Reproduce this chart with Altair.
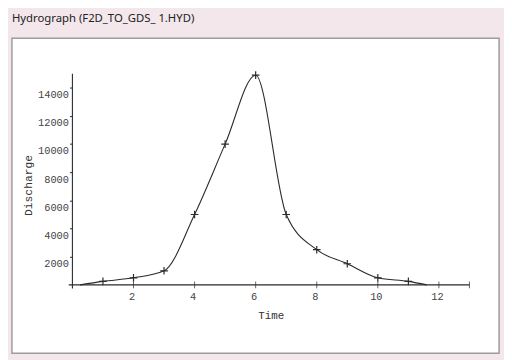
import altair as alt
import pandas as pd

# ---- data ----
times = [1, 2, 3, 4, 5, 6, 7, 8, 9, 10, 11]
discharge = [250, 500, 1000, 5000, 10000, 14900, 5000, 2500, 1500, 500, 250]
curve_start = [0.25, 0]
curve_end = [11.6, 0]
x_label_values = [2, 4, 6, 8, 10, 12]
x_tick_values = [2, 4, 6, 8, 10, 12, 13]
y_tick_values = [2000, 4000, 6000, 8000, 10000, 12000, 14000]
x_axis_span = [-0.12, 13]
y_axis_span = [-250, 15000]
title_text = "Hydrograph (F2D_TO_GDS_ 1.HYD)"

pts = pd.DataFrame({"Time": times, "Discharge": discharge})
curve = pd.DataFrame({
    "Time": [curve_start[0]] + times + [curve_end[0]],
    "Discharge": [curve_start[1]] + discharge + [curve_end[1]],
})
xline = pd.DataFrame({"Time": [x_axis_span[0]], "x2": [x_axis_span[1]], "Discharge": [0]})
yline = pd.DataFrame({"Time": [0], "Discharge": [y_axis_span[0]], "y2": [y_axis_span[1]]})
xticks = pd.DataFrame({"Time": x_tick_values, "Discharge": [0] * len(x_tick_values)})

xs = alt.Scale(domain=[-1.98, 13.97], nice=False, zero=False)
ys = alt.Scale(domain=[-4860, 17517], nice=False, zero=False)

MONO = "Liberation Mono"
INK = "#2a2a2a"

x_axis = alt.Axis(
    values=x_label_values, format="d", domain=False, ticks=False, tickSize=0, grid=False,
    offset=-69.5, labelFont=MONO, labelFontSize=10.5, labelColor="#444",
    labelPadding=7, labelOffset=-2, labelBaseline="top",
    title="Time", titleX=263, titleY=31.5, titleBaseline="middle",
    titleFont=MONO, titleFontSize=11, titleFontWeight="normal", titleColor="#333",
)
y_axis = alt.Axis(
    values=y_tick_values, format="d", domain=False, ticks=True, tickSize=3, tickColor=INK,
    grid=False, offset=-61.5, labelFont=MONO, labelFontSize=10.5, labelColor="#444",
    labelPadding=1, labelOffset=7,
    title="Discharge", titleX=-44.5, titleY=149, titleBaseline="middle",
    titleFont=MONO, titleFontSize=11.5, titleFontWeight="normal", titleColor="#333",
)

X = alt.X("Time:Q", scale=xs, axis=x_axis, title="Time")
Y = alt.Y("Discharge:Q", scale=ys, axis=y_axis, title="Discharge")

line = alt.Chart(curve).mark_line(
    interpolate="monotone", color=INK, strokeWidth=1.1
).encode(x=X, y=Y)

cross = "M-1,0L1,0M0,-1L0,1"
points = alt.Chart(pts).mark_point(
    shape=cross, filled=False, color=INK, size=60, strokeWidth=1.2, opacity=1
).encode(x=X, y=Y)

xl = alt.Chart(xline).mark_rule(color=INK, strokeWidth=1.1).encode(
    x=X, x2="x2:Q", y=Y,
)
yl = alt.Chart(yline).mark_rule(color=INK, strokeWidth=1.1).encode(
    x=X, y=Y, y2="y2:Q",
)
xt = alt.Chart(xticks).mark_tick(orient="vertical", size=7, thickness=1, color=INK).encode(
    x=X, y=Y,
)

chart = alt.layer(xl, yl, xt, line, points).properties(
    width=495,
    height=320,
    autosize=alt.AutoSizeParams(type="none"),
    padding={"left": 4, "top": 28, "right": 5, "bottom": 4},
    background="#f3e7eb",
    title=alt.TitleParams(
        title_text, anchor="start", frame="group", font="Noto Sans",
        fontSize=11.5, fontWeight="normal", color="#222", baseline="middle",
        offset=8,
    ),
).configure_view(
    fill="white", stroke="#9c9c9c", strokeWidth=1.5
)

chart.save("out.html", embed_options={"renderer": "svg", "actions": False})
